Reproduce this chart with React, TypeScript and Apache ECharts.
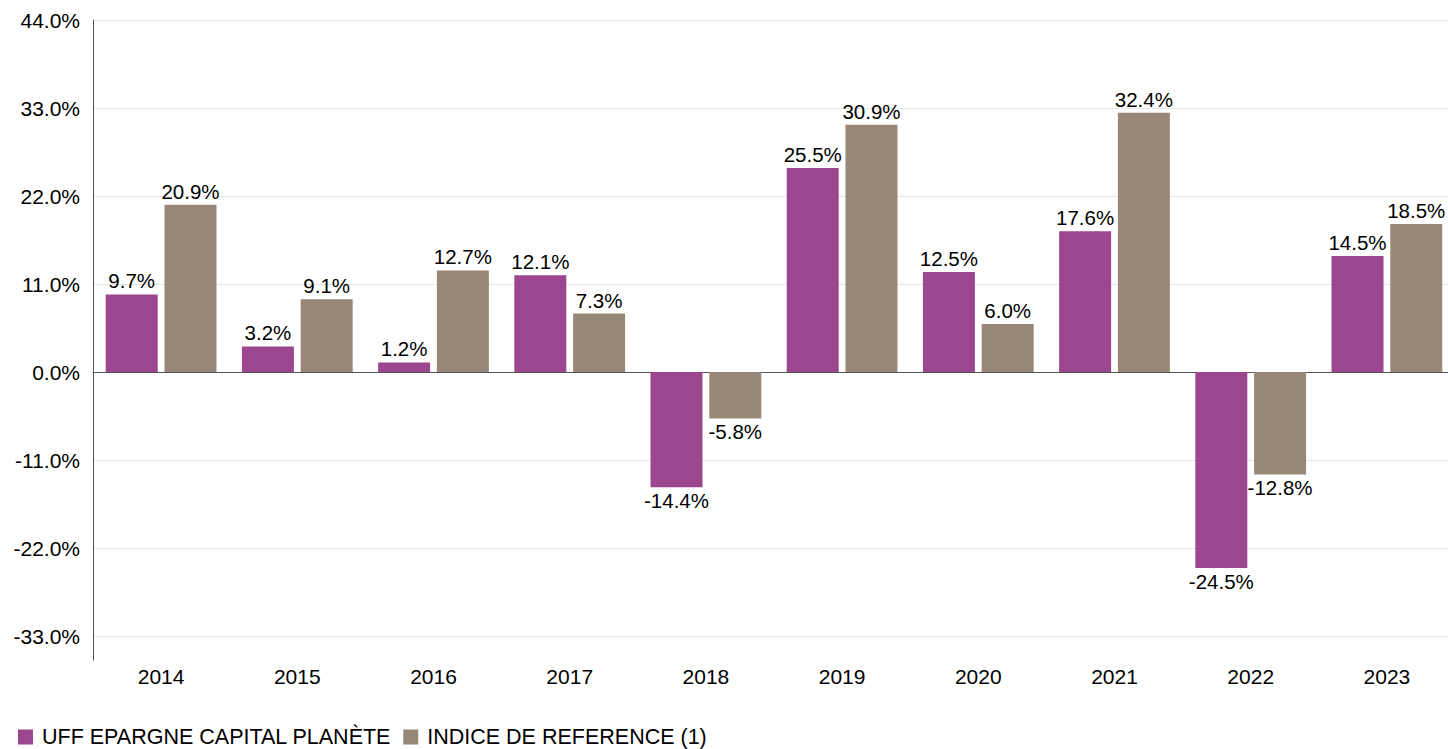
import React, { useEffect, useRef } from "react";
import * as echarts from "echarts";

const categories = ["2014", "2015", "2016", "2017", "2018", "2019", "2020", "2021", "2022", "2023"];
const fundValues = [9.7, 3.2, 1.2, 12.1, -14.4, 25.5, 12.5, 17.6, -24.5, 14.5];
const indexValues = [20.9, 9.1, 12.7, 7.3, -5.8, 30.9, 6.0, 32.4, -12.8, 18.5];
const yTicks = [-33, -22, -11, 0, 11, 22, 33, 44];
const seriesNames = ["UFF EPARGNE CAPITAL PLANÈTE", "INDICE DE REFERENCE (1)"];
const colors = ["#9d4690", "#988877"];

const FONT = "'Liberation Sans', Arial, sans-serif";

function toData(vals: number[]) {
  return vals.map((v) => ({
    value: v,
    label: { position: v >= 0 ? "top" : "bottom" },
  }));
}

export default function App() {
  const ref = useRef<HTMLDivElement>(null);
  useEffect(() => {
    if (!ref.current) return;
    const chart = echarts.init(ref.current, undefined, { renderer: "svg" });
    const labelCfg = {
      show: true,
      color: "#000",
      fontSize: 20.5,
      fontFamily: FONT,
      distance: 3,
      formatter: (p: any) => p.value.toFixed(1) + "%",
    };
    chart.setOption({
      animation: false,
      textStyle: { fontFamily: FONT },
      legend: {
        left: 13,
        bottom: 0,
        padding: [0, 5, 1, 5],
        icon: "rect",
        itemWidth: 15,
        itemHeight: 15,
        itemGap: 12,
        itemStyle: { borderWidth: 0 },
        textStyle: {
          fontSize: 21.5,
          lineHeight: 22,
          color: "#000",
          fontFamily: FONT,
          padding: [0, 0, 0, 4],
        },
        data: seriesNames,
      },
      grid: { left: 93, right: 1, top: 20, bottom: 89, containLabel: false },
      xAxis: [
        {
          type: "category",
          data: categories,
          position: "bottom",
          axisLine: { show: false, onZero: false },
          axisTick: { show: false },
          axisLabel: { fontSize: 21, color: "#000", margin: 6, fontFamily: FONT },
        },
        {
          type: "category",
          data: categories,
          position: "bottom",
          axisLine: { show: true, onZero: true, lineStyle: { color: "#555", width: 1 } },
          axisTick: { show: false },
          axisLabel: { show: false },
        },
      ],
      yAxis: {
        type: "value",
        min: -36,
        max: 44,
        axisLine: { show: true, lineStyle: { color: "#555", width: 1 } },
        axisTick: { show: false, customValues: yTicks },
        axisLabel: {
          customValues: yTicks,
          fontSize: 21,
          color: "#000",
          margin: 13,
          fontFamily: FONT,
          formatter: (v: number) => v.toFixed(1) + "%",
        },
        splitLine: { show: true, lineStyle: { color: "#e5e5e5", width: 1 } },
      },
      series: [
        {
          name: seriesNames[0],
          type: "bar",
          data: toData(fundValues),
          itemStyle: { color: colors[0] },
          barWidth: 52,
          barGap: "13%",
          label: labelCfg,
        },
        {
          name: seriesNames[1],
          type: "bar",
          data: toData(indexValues),
          itemStyle: { color: colors[1] },
          barWidth: 52,
          barGap: "13%",
          label: labelCfg,
        },
      ],
    });
    return () => chart.dispose();
  }, []);
  return (
    <div
      ref={ref}
      style={{ position: "fixed", left: 0, top: 0, width: 1456, height: 749, background: "#fff" }}
    />
  );
}
